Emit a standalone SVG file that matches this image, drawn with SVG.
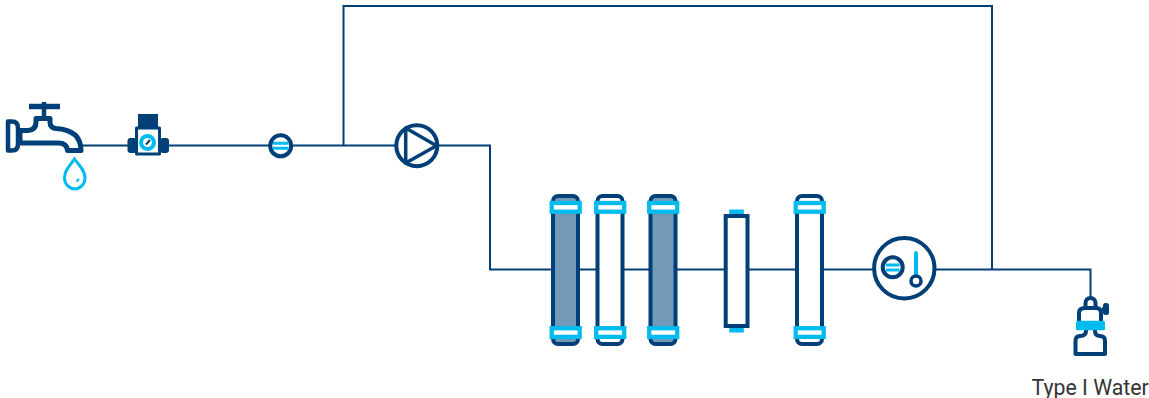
<svg xmlns="http://www.w3.org/2000/svg" width="1149" height="398" viewBox="0 0 1149 398">
<style>
.pipe{fill:none;stroke:#003f77;stroke-width:2}
.d{fill:none;stroke:#003f77;stroke-linejoin:round}
.w{fill:#fff}
.c{fill:none;stroke:#00bcee}
.band{fill:#fff;stroke:#00bcee;stroke-width:4.300}
.col{stroke:#003f77;stroke-width:4}
</style>
<defs>
<g id="bands">
<rect class="band" x="2.200" y="11" width="28" height="8.700"/>
<rect class="band" x="2.200" y="136.200" width="28" height="8.700"/>
</g>
</defs>
<rect width="1149" height="398" fill="#fff"/>
<g id="connectors">
<path class="pipe" d="M83 145.500H395M343.500 145.500V6H992V269.500M439 145.500H490V269.500H1090.500V300"/>
</g>
<g id="faucet">
<path class="d w" stroke-width="5" d="M20 130.500H28Q36 130 36 122V118.500H50V122Q50 128 56 128.500Q81 130 81 150.500H67.500Q67 143 58 143H20M20 130V143"/>
<path class="d w" stroke-width="4.500" d="M8 121.500H12Q18 121.500 18 128V144Q18 150.500 12 150.500H8Z"/>
<path class="d" stroke-width="5.500" d="M29 106.500H60"/>
<path class="d" stroke-width="4.500" d="M44 102V118"/>
<path class="c" stroke-width="3" d="M74.500 159C70 165.500 64.500 170 64.500 178A10 10.500 0 0 0 85 178C85 170 79 165.500 74.500 159Z"/>
<path class="c" stroke-width="2" d="M76.500 181.500L79 179"/>
</g>
<g id="meter">
<rect x="138" y="114" width="20" height="14" fill="#003f77"/>
<rect x="127.500" y="138" width="9" height="15" rx="3" fill="#003f77"/>
<rect x="160" y="138" width="9" height="15" rx="3" fill="#003f77"/>
<rect class="d w" x="136.500" y="128" width="23" height="26" stroke-width="3"/>
<circle class="c" cx="147.500" cy="142.500" r="6.500" stroke-width="4"/>
<path class="d" stroke-width="2" d="M146 144.500L150 140"/>
</g>
<g id="valve">
<circle class="d w" cx="280.700" cy="145.800" r="10.500" stroke-width="4"/>
<path class="c" stroke-width="3" d="M273 143.300H288.500M273 148.300H288.500"/>
</g>
<g id="pump">
<circle class="d w" cx="416.800" cy="145.700" r="20.500" stroke-width="4"/>
<path class="d" stroke-width="3.500" d="M405.700 128V163L436.500 145.700Z"/>
</g>
<g id="col1" transform="translate(549.500 192)">
<rect class="col" x="3.500" y="4" width="25" height="148" rx="5" fill="#7299b7"/>
<use href="#bands"/>
</g>
<g id="col2" transform="translate(594 192)">
<rect class="col" x="3.500" y="4" width="25" height="148" rx="5" fill="#fff"/>
<use href="#bands"/>
</g>
<g id="col3" transform="translate(647 192)">
<rect class="col" x="3.500" y="4" width="25" height="148" rx="5" fill="#7299b7"/>
<use href="#bands"/>
</g>
<g id="filter">
<rect x="729.300" y="209.500" width="14.500" height="123" fill="#00bcee"/>
<rect x="725.700" y="216" width="21.800" height="110" fill="#fff" stroke="#003f77" stroke-width="4"/>
</g>
<g id="col5" transform="translate(793.500 192)">
<rect class="col" x="3.500" y="4" width="25" height="148" rx="5" fill="#fff"/>
<use href="#bands"/>
</g>
<g id="sensor">
<circle class="d w" cx="904.300" cy="268.300" r="30.200" stroke-width="4"/>
<circle class="d" cx="892.700" cy="267.300" r="10" stroke-width="4"/>
<path class="c" stroke-width="3" d="M886 265H899.500M886 270H899.500"/>
<path class="c" stroke-width="4" stroke-linecap="round" d="M916 253V274"/>
<circle class="d" cx="916" cy="281" r="5" stroke-width="3.500"/>
</g>
<g id="bottle">
<path class="d" stroke-width="4" d="M1085.500 307V303A5 5 0 0 1 1095.500 303V307"/>
<path class="d" stroke-width="4" d="M1079 321V313Q1079 308 1085 308H1096Q1101 308 1101 313V321"/>
<path class="d" stroke-width="3.500" d="M1102 309H1106"/>
<rect x="1103" y="303" width="6" height="12" rx="2.500" fill="#003f77"/>
<path class="d" stroke-width="4" d="M1086 330V331Q1086 336 1080 336Q1075.500 336 1075.500 341V354H1105V341Q1105 336 1100 336Q1095 336 1095 331V330"/>
<rect x="1076" y="320.700" width="29" height="9.500" rx="1.500" fill="#00bcee"/>
</g>
<g id="label">
<text x="1031.500" y="395" font-family="Roboto, sans-serif" font-size="21.300" fill="#333">Type I Water</text>
</g>
</svg>
